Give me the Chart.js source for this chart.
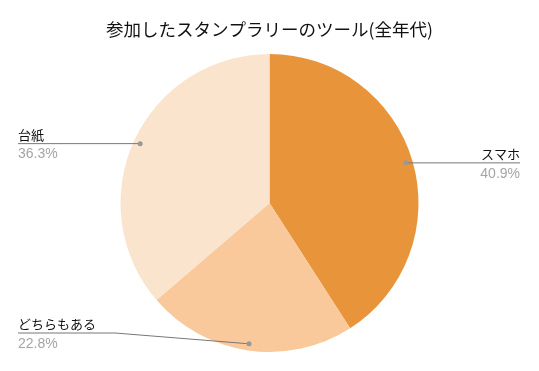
<!DOCTYPE html>
<html>
<head>
<meta charset="utf-8">
<script src="https://cdn.jsdelivr.net/npm/chart.js@4"></script>
<style>
  html, body { margin: 0; padding: 0; background: #fff; }
  #wrap { width: 539px; height: 371px; }
</style>
</head>
<body>
<div id="wrap"><canvas id="pie"></canvas></div>
<script>
const labels = ['スマホ', 'どちらもある', '台紙'];
const values = [40.9, 22.8, 36.3];
const colors = ['#E8943A', '#F9C99B', '#FBE4CD'];

// leader lines + labels outside the slices
const outLabels = {
    id: 'outLabels',
    afterDatasetsDraw(chart) {
        const ctx = chart.ctx;
        const meta = chart.getDatasetMeta(0);
        const total = values.reduce((a, b) => a + b, 0);
        const W = chart.width, H = chart.height;
        meta.data.forEach((arc, i) => {
            const p = arc.getProps(['x', 'y', 'startAngle', 'endAngle', 'outerRadius'], true);
            const mid = (p.startAngle + p.endAngle) / 2;
            const ax = p.x + Math.cos(mid) * p.outerRadius * 0.955;
            const ay = p.y + Math.sin(mid) * p.outerRadius * 0.955;
            const right = Math.cos(mid) >= 0;
            const ly = Math.min(ay, H - 38);
            const edge = right ? W - 19 : 18;
            const elbow = right ? W - 115 : 115;

            ctx.save();
            ctx.strokeStyle = '#777';
            ctx.lineWidth = 1;
            ctx.beginPath();
            ctx.moveTo(edge, ly);
            ctx.lineTo(elbow, ly);
            ctx.lineTo(ax, ay);
            ctx.stroke();

            ctx.fillStyle = '#999';
            ctx.beginPath();
            ctx.arc(ax, ay, 2.5, 0, Math.PI * 2);
            ctx.fill();

            ctx.textAlign = right ? 'right' : 'left';
            ctx.font = '13px "Noto Sans CJK JP", sans-serif';
            ctx.fillStyle = '#111';
            ctx.textBaseline = 'alphabetic';
            ctx.fillText(labels[i], edge, ly - 4);
            ctx.font = '14px "Liberation Sans", Arial, sans-serif';
            ctx.fillStyle = '#a5a5a5';
            ctx.textBaseline = 'top';
            ctx.fillText((values[i] / total * 100).toFixed(1) + '%', edge, ly + 4);
            ctx.restore();
        });
    }
};

new Chart(document.getElementById('pie').getContext('2d'), {
    type: 'pie',
    data: {
        labels: labels,
        datasets: [{
            data: values,
            backgroundColor: colors,
            borderWidth: 0
        }]
    },
    options: {
        responsive: true,
        maintainAspectRatio: false,
        animation: false,
        layout: { padding: { top: 0, bottom: 19 } },
        plugins: {
            legend: { display: false },
            tooltip: { enabled: false },
            title: {
                display: true,
                text: '参加したスタンプラリーのツール(全年代)',
                color: '#111',
                font: { family: '"Noto Sans CJK JP", sans-serif', size: 17.5, weight: 'normal', lineHeight: 1.2 },
                padding: { top: 19, bottom: 14 }
            }
        }
    },
    plugins: [outLabels]
});
</script>
</body>
</html>
